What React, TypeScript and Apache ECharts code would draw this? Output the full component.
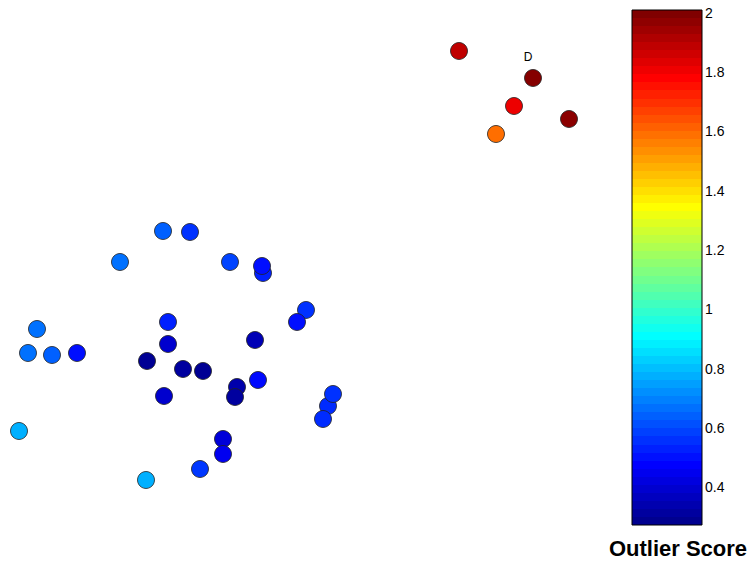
import React, { useEffect, useRef } from "react";
import * as echarts from "echarts";

// Point positions (embedding coordinates) and outlier scores
const xs = [4.59, 5.33, 5.14, 4.96, 5.69,
  1.63, 1.90, 1.20, 2.30, 2.63, 2.62, 3.06, 2.97, 0.37, 1.68,
  1.68, 2.55, 0.28, 0.52, 0.77, 1.47, 1.83, 2.03, 2.37, 2.35,
  2.58, 1.64, 3.28, 3.33, 3.23, 0.19, 2.23, 2.23, 2.00, 1.46];
const ys = [5.10, 4.83, 4.55, 4.27, 4.42,
  3.30, 3.29, 2.99, 2.99, 2.88, 2.95, 2.51, 2.39, 2.32, 2.39,
  2.17, 2.21, 2.08, 2.06, 2.08, 2.00, 1.92, 1.90, 1.74, 1.64,
  1.81, 1.65, 1.55, 1.67, 1.42, 1.30, 1.22, 1.07, 0.92, 0.81];
const scores = [1.90, 2.00, 1.82, 1.60, 1.99,
  0.63, 0.55, 0.66, 0.58, 0.52, 0.49, 0.55, 0.49, 0.66, 0.52,
  0.38, 0.34, 0.66, 0.63, 0.49, 0.28, 0.30, 0.28, 0.32, 0.30,
  0.48, 0.38, 0.54, 0.55, 0.54, 0.77, 0.40, 0.44, 0.56, 0.77];
const names = ["", "D", "", "", "",
  "", "", "", "", "", "", "", "", "", "",
  "", "", "", "", "", "", "", "", "", "",
  "", "", "", "", "", "", "", "", "", ""];

const scoreMin = 0.272;
const scoreMax = 2.01;
const colorbarTicks = [0.4, 0.6, 0.8, 1, 1.2, 1.4, 1.6, 1.8, 2];

// MATLAB-style jet(64) colormap
function jet64(): string[] {
  const out: string[] = [];
  for (let i = 1; i <= 64; i++) {
    let r = 0, g = 0, b = 0;
    if (i <= 8) { b = 0.5 + i / 16; }
    else if (i <= 24) { g = (i - 8) / 16; b = 1; }
    else if (i <= 40) { r = (i - 24) / 16; g = 1; b = 1 - (i - 24) / 16; }
    else if (i <= 56) { r = 1; g = 1 - (i - 40) / 16; }
    else { r = 1 - (i - 56) / 16; }
    const h = (v: number) => Math.round(v * 255).toString(16).padStart(2, "0");
    out.push("#" + h(r) + h(g) + h(b));
  }
  return out;
}

export default function App() {
  const ref = useRef<HTMLDivElement>(null);
  useEffect(() => {
    document.body.style.margin = "0";
    const chart = echarts.init(ref.current!, null, { renderer: "svg" });
    const jet = jet64();
    // stepped gradient for colorbar (top = high)
    const stops: { offset: number; color: string }[] = [];
    for (let k = 0; k < 64; k++) {
      const c = jet[63 - k];
      stops.push({ offset: k / 64, color: c });
      stops.push({ offset: (k + 1) / 64, color: c });
    }
    const data = xs.map((x, i) => ({
      value: [x, ys[i], scores[i]],
      label: names[i]
        ? { show: true, formatter: names[i], position: "top", distance: 6, offset: [-5, 0], color: "#000", fontSize: 12, fontFamily: "Liberation Sans, Arial, sans-serif" }
        : undefined,
    }));
    const font = "Liberation Sans, Arial, Helvetica, sans-serif";
    chart.setOption({
      animation: false,
      backgroundColor: "#fff",
      grid: [
        { left: 0, top: 0, width: 600, height: 561 },
        { left: 632, top: 10, width: 70, height: 515, show: true, borderColor: "#000", borderWidth: 1, backgroundColor: "transparent", z: 3 },
      ],
      xAxis: [
        { gridIndex: 0, type: "value", min: 0, max: 6, show: false },
        { gridIndex: 1, type: "value", min: 0, max: 1, show: false },
      ],
      yAxis: [
        { gridIndex: 0, type: "value", min: 0, max: 5.61, show: false },
        {
          gridIndex: 1, type: "value", position: "left", min: scoreMin, max: scoreMax,
          axisLine: { show: false }, splitLine: { show: false },
          axisTick: { show: true, inside: true, length: 4, lineStyle: { color: "#000" }, customValues: colorbarTicks },
          axisLabel: { show: false, customValues: colorbarTicks },
        },
        {
          gridIndex: 1, type: "value", position: "right", min: scoreMin, max: scoreMax,
          axisLine: { show: false }, splitLine: { show: false },
          axisTick: { show: true, inside: true, length: 4, lineStyle: { color: "#000" }, customValues: colorbarTicks },
          axisLabel: { show: true, customValues: colorbarTicks, color: "#000", fontSize: 14, fontFamily: font, margin: 3 },
        },
      ],
      visualMap: {
        type: "continuous", show: false, seriesIndex: 0, dimension: 2,
        min: scoreMin, max: scoreMax, inRange: { color: jet },
      },
      graphic: [
        {
          type: "rect", z: 1, shape: { x: 632, y: 10, width: 70, height: 515 },
          style: { fill: new echarts.graphic.LinearGradient(0, 0, 0, 1, stops) },
        },
        {
          type: "text", x: 678, y: 548, z: 5,
          style: { text: "Outlier Score", fill: "#000", font: "bold 22px " + font, textAlign: "center", textVerticalAlign: "middle" },
        },
      ],
      series: [
        {
          type: "scatter", xAxisIndex: 0, yAxisIndex: 0, symbolSize: 17,
          itemStyle: { borderColor: "#222", borderWidth: 0.8, opacity: 1 },
          data,
        },
      ],
    });
    return () => chart.dispose();
  }, []);
  return <div ref={ref} style={{ width: 756, height: 561 }} />;
}
